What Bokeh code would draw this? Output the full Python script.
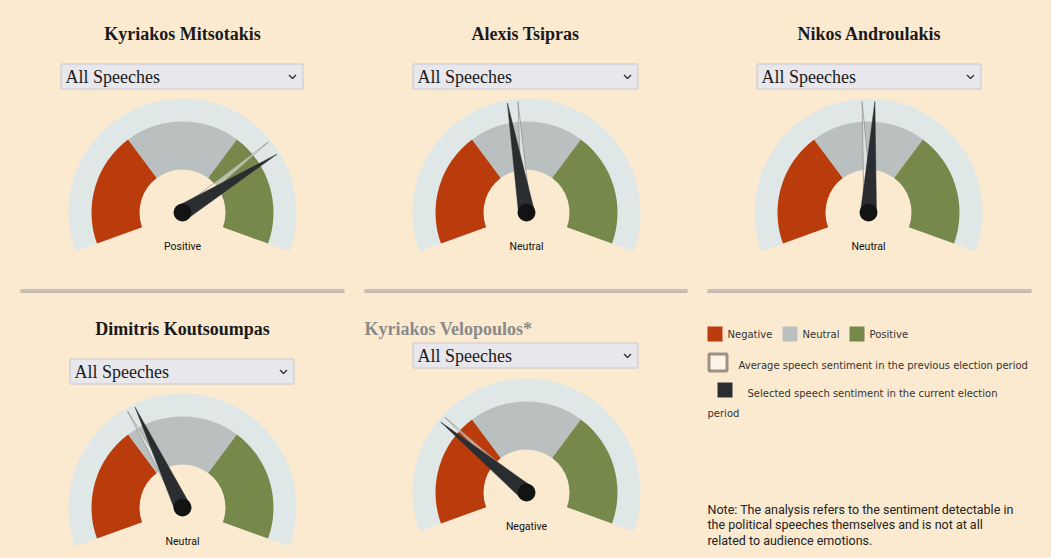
import math
from bokeh.plotting import figure
from bokeh.models import Range1d
from bokeh.core.properties import value
from bokeh.embed import file_html
from bokeh.resources import INLINE

# ---------------- data ----------------
names = ["Kyriakos Mitsotakis", "Alexis Tsipras", "Nikos Androulakis",
         "Dimitris Koutsoumpas", "Kyriakos Velopoulos*"]
current_score = [0.53, -0.09, 0.03, -0.23, -0.46]     # selected speech sentiment (-1..1)
previous_score = [0.46, -0.04, -0.03, -0.27, -0.43]   # previous election period average
result_label = ["Positive", "Neutral", "Neutral", "Neutral", "Negative"]
categories = ["Negative", "Neutral", "Positive"]
dropdown_text = "All Speeches"
legend_prev = "Average speech sentiment in the previous election period"
legend_curr_1 = "Selected speech sentiment in the current election"
legend_curr_2 = "period"
note_lines = ["Note: The analysis refers to the sentiment detectable in",
              "the political speeches themselves and is not at all",
              "related to audience emotions."]

# ---------------- style / layout ----------------
BG = "#FCEAD0"
CAT_COLORS = ["#BA3B0B", "#B9C0BF", "#77894A"]
BAND = "#E0E7E7"
NEEDLE = "#2A2E30"
PIVOT = "#121414"
START, SPAN = 200.0, 220.0

W, H = 1045, 552
PAGE_H = 558
def Y(s):
    return PAGE_H - s

centers = [(182, 212), (526, 212), (868, 212), (182, 507), (526, 492)]
titles_pos = [(182, 34, "center"), (525, 34, "center"), (869, 34, "center"),
              (182, 329, "center"), (364, 329, "left")]
title_colors = ["#1a1a1a", "#1a1a1a", "#1a1a1a", "#1a1a1a", "#8a8a8a"]
dropdowns = [(60, 303, 63, 89), (412, 638, 63, 89), (756, 981, 63, 89),
             (69, 294, 358, 384), (412, 638, 342, 368)]

p = figure(width=W, height=H, x_range=Range1d(0, W), y_range=Range1d(PAGE_H - H, PAGE_H),
           output_backend="svg", toolbar_location=None, min_border=0,
           x_axis_type=None, y_axis_type=None,
           background_fill_color=BG, border_fill_color=BG, outline_line_color=None)
p.grid.visible = False

def ang(v):
    return START - (v + 1) / 2 * SPAN

def rad(d):
    return math.radians(d)

def needle(cx, cy, a_deg, length, half_w):
    a = math.radians(a_deg)
    tx, ty = cx + length * math.cos(a), cy + length * math.sin(a)
    px, py = -math.sin(a), math.cos(a)
    return ([cx + half_w * px, tx, cx - half_w * px],
            [cy + half_w * py, ty, cy - half_w * py])

seg = SPAN / len(categories)
for i, (sx, sy) in enumerate(centers):
    cx, cy = sx, Y(sy)
    # outer band
    p.annular_wedge(x=cx, y=cy, inner_radius=43, outer_radius=114,
                    start_angle=rad(START - SPAN), end_angle=rad(START),
                    fill_color=BAND, line_color=None)
    for k, c in enumerate(CAT_COLORS):
        e = START - k * seg
        s = e - seg
        p.annular_wedge(x=cx, y=cy, inner_radius=43, outer_radius=91,
                        start_angle=rad(s), end_angle=rad(e),
                        fill_color=c, line_color=None)
    # previous (ghost) needle
    gx, gy = needle(cx, cy, ang(previous_score[i]), 111, 4.5)
    p.patch(gx, gy, fill_color="white", fill_alpha=0.5,
            line_color="#8e8e8e", line_width=0.8, line_alpha=0.9)
    # current needle
    nx, ny = needle(cx, cy, ang(current_score[i]), 111, 8)
    p.patch(nx, ny, fill_color=NEEDLE, line_color=NEEDLE, line_width=0.5)
    p.circle(x=cx, y=cy, radius=9, fill_color=PIVOT, line_color=None)
    # label
    p.text(x=cx, y=Y(sy + 34), text=[result_label[i]], text_align="center",
           text_baseline="middle", text_font=value("Roboto"),
           text_font_size="10.5px", text_color="#111111")
    # title
    tx, ty, al = titles_pos[i]
    p.text(x=tx, y=Y(ty - 0.5), text=[names[i]], text_align=al, text_baseline="middle",
           text_font=value("Liberation Serif"), text_font_style="bold",
           text_font_size="18px", text_color=title_colors[i])
    # dropdown
    l, r, t, b = dropdowns[i]
    p.quad(left=l + 0.5, right=r - 0.5, top=Y(t + 0.5), bottom=Y(b - 0.5),
           fill_color="#E8E7EC", line_color="#C6C6CE", line_width=1)
    ym = Y((t + b) / 2)
    p.text(x=l + 5, y=ym, text=[dropdown_text], text_align="left",
           text_baseline="middle", text_font=value("Liberation Serif"),
           text_font_size="18px", text_color="#1a1a1a")
    chx = r - 11
    p.line(x=[chx - 3.5, chx, chx + 3.5], y=[ym + 1.5, ym - 2, ym + 1.5],
           line_color="#333333", line_width=1.4)

# separators (double rule)
for (x0, x1) in [(20, 344), (364, 687), (707, 1031)]:
    p.quad(left=x0, right=x1, top=Y(289), bottom=Y(290), fill_color="#8c8c8c", line_color=None)
    p.quad(left=x0, right=x1, top=Y(290), bottom=Y(291), fill_color="#d8d5cf", line_color=None)
    p.quad(left=x0, right=x1, top=Y(291), bottom=Y(292), fill_color="#8c8c8c", line_color=None)

# legend
leg_x = [707, 782, 849]
for k, c in enumerate(CAT_COLORS):
    p.quad(left=leg_x[k], right=leg_x[k] + 15, top=Y(326), bottom=Y(341),
           fill_color=c, line_color=None)
    p.text(x=leg_x[k] + 20, y=Y(333.5), text=[categories[k]], text_align="left",
           text_baseline="middle", text_font=value("DejaVu Sans"),
           text_font_size="10px", text_color="#333333")
p.quad(left=708.5, right=726.5, top=Y(353.5), bottom=Y(370.5),
       fill_color="#FDF3E6", line_color="#9C9183", line_width=3)
p.text(x=738, y=Y(365), text=[legend_prev], text_align="left", text_baseline="middle",
       text_font=value("DejaVu Sans"), text_font_size="10px", text_color="#333333")
p.quad(left=717, right=732, top=Y(382), bottom=Y(397), fill_color=NEEDLE, line_color=None)
p.text(x=747, y=Y(393), text=[legend_curr_1], text_align="left", text_baseline="middle",
       text_font=value("DejaVu Sans"), text_font_size="10px", text_color="#333333")
p.text(x=707, y=Y(413), text=[legend_curr_2], text_align="left", text_baseline="middle",
       text_font=value("DejaVu Sans"), text_font_size="10px", text_color="#333333")

for j, line in enumerate(note_lines):
    p.text(x=707, y=Y(508.5 + j * 15.5), text=[line], text_align="left",
           text_baseline="middle", text_font=value("Roboto"),
           text_font_size="12.5px", text_color="#222222")

html = file_html(p, INLINE)
html = html.replace("</head>", "<style>html,body{background:%s;}</style></head>" % BG, 1)
open("out.html", "w").write(html)
